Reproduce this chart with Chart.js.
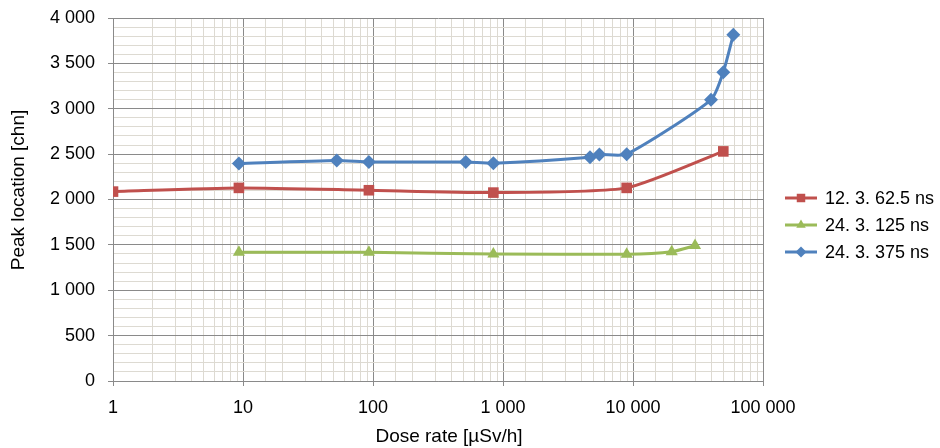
<!DOCTYPE html>
<html>
<head>
<meta charset="utf-8">
<script src="https://cdn.jsdelivr.net/npm/chart.js@4.4.1/dist/chart.umd.min.js"></script>
<style>
  html, body { margin: 0; padding: 0; background: #ffffff; }
  #wrap { width: 940px; height: 448px; }
</style>
</head>
<body>
<div id="wrap"><canvas id="c" width="940" height="448"></canvas></div>
<script>
// Dose rate [µSv/h] and peak location [chn] for each measurement series
const seriesNames = ['12. 3. 62.5 ns', '24. 3. 125 ns', '24. 3. 375 ns'];

const doseRed  = [1, 9.3, 93, 843, 8940, 49500];
const peakRed  = [2087, 2128, 2102, 2076, 2128, 2530];

const doseGreen = [9.3, 93, 843, 8940, 19850, 30000];
const peakGreen = [1420, 1418, 1400, 1397, 1425, 1492];

const doseBlue = [9.3, 52.6, 93, 517, 843, 4670, 5510, 8940, 39800, 49500, 59100];
const peakBlue = [2396, 2429, 2414, 2414, 2400, 2466, 2495, 2499, 3098, 3403, 3815];

const xMajorTicks = [1, 10, 100, 1000, 10000, 100000];
const yMajorStep = 500;

const xTitle = 'Dose rate [µSv/h]';
const yTitle = 'Peak location [chn]';

const colors = ['#C0504D', '#9BBB59', '#4F81BD'];
const markers = ['rect', 'triangle', 'rectRot'];
const markerRadius = [7.5, 7, 7];
const legendRadius = [6, 5.5, 5.5];

const FONT = '"Liberation Sans", Arial, sans-serif';
const TICK_SIZE = 18;
const TITLE_SIZE = 19;

function spaced(v) {
  return String(Math.round(v)).replace(/\B(?=(\d{3})+(?!\d))/g, ' ');
}
function pts(xs, ys) {
  return xs.map((x, i) => ({ x: x, y: ys[i] }));
}
function isDecade(v) {
  const l = Math.log10(v);
  return Math.abs(l - Math.round(l)) < 1e-9;
}

const MAJOR = '#8a8a8a';
const MINOR = '#dddad2';

const datasets = [
  [doseRed, peakRed],
  [doseGreen, peakGreen],
  [doseBlue, peakBlue]
].map((d, i) => ({
  label: seriesNames[i],
  data: pts(d[0], d[1]),
  borderColor: colors[i],
  backgroundColor: colors[i],
  borderWidth: 3,
  pointStyle: markers[i],
  pointRadius: markerRadius[i],
  pointHoverRadius: markerRadius[i],
  pointBorderWidth: 0,
  tension: 0.2,
  fill: false
}));

// Axis titles and a line + marker legend to the right of the plot
const annotations = {
  id: 'annotations',
  afterDraw(chart) {
    const ctx = chart.ctx;
    const x0 = 785, x1 = 817, tx = 825;
    const rows = [198, 225, 252];
    ctx.save();
    chart.data.datasets.forEach((ds, i) => {
      const y = rows[i];
      ctx.strokeStyle = ds.borderColor;
      ctx.lineWidth = 3;
      ctx.beginPath();
      ctx.moveTo(x0, y);
      ctx.lineTo(x1, y);
      ctx.stroke();
      ctx.fillStyle = ds.backgroundColor;
      Chart.helpers.drawPoint(ctx, {
        pointStyle: ds.pointStyle,
        rotation: 0,
        radius: legendRadius[i],
        borderWidth: 0
      }, (x0 + x1) / 2, y);
      ctx.fillStyle = '#000000';
      ctx.font = TICK_SIZE + 'px ' + FONT;
      ctx.textAlign = 'left';
      ctx.textBaseline = 'middle';
      ctx.fillText(ds.label, tx, y + 1);
    });

    ctx.fillStyle = '#000000';
    ctx.font = TITLE_SIZE + 'px ' + FONT;
    ctx.textAlign = 'center';
    ctx.textBaseline = 'middle';
    ctx.fillText(xTitle, 449, 437);

    ctx.translate(19, 190);
    ctx.rotate(-Math.PI / 2);
    ctx.fillText(yTitle, 0, 0);
    ctx.restore();
  }
};

new Chart(document.getElementById('c'), {
  type: 'line',
  data: { datasets: datasets },
  plugins: [annotations],
  options: {
    responsive: false,
    animation: false,
    layout: { padding: { left: 0, right: 177, top: 18, bottom: 0 } },
    plugins: {
      legend: { display: false },
      tooltip: { enabled: false }
    },
    scales: {
      x: {
        type: 'logarithmic',
        min: 1,
        max: 100000,
        afterFit(scale) {
          scale.height = 67;
          scale.paddingLeft = 0;
          scale.paddingRight = 0;
        },
        border: { display: true, color: MAJOR, width: 1 },
        grid: {
          color: (c) => (c.tick && isDecade(c.tick.value)) ? MAJOR : MINOR,
          tickColor: (c) => (c.tick && isDecade(c.tick.value)) ? MAJOR : 'rgba(0,0,0,0)',
          tickLength: 5,
          lineWidth: 1
        },
        ticks: {
          autoSkip: false,
          maxRotation: 0,
          padding: 11,
          color: '#000000',
          font: { family: FONT, size: TICK_SIZE },
          callback: (v) => xMajorTicks.includes(v) ? spaced(v) : ''
        },
        title: { display: false }
      },
      y: {
        type: 'linear',
        min: 0,
        max: 4000,
        afterFit(scale) {
          scale.width = 113;
          scale.paddingTop = 0;
          scale.paddingBottom = 0;
        },
        border: { display: true, color: MAJOR, width: 1 },
        grid: {
          color: (c) => (c.tick && c.tick.value % yMajorStep === 0) ? MAJOR : MINOR,
          tickColor: (c) => (c.tick && c.tick.value % yMajorStep === 0) ? MAJOR : 'rgba(0,0,0,0)',
          tickLength: 5,
          lineWidth: 1
        },
        ticks: {
          stepSize: 100,
          autoSkip: false,
          padding: 13,
          color: '#000000',
          font: { family: FONT, size: TICK_SIZE },
          callback: (v) => (v % yMajorStep === 0) ? spaced(v) : ''
        },
        title: { display: false }
      }
    }
  }
});
</script>
</body>
</html>
